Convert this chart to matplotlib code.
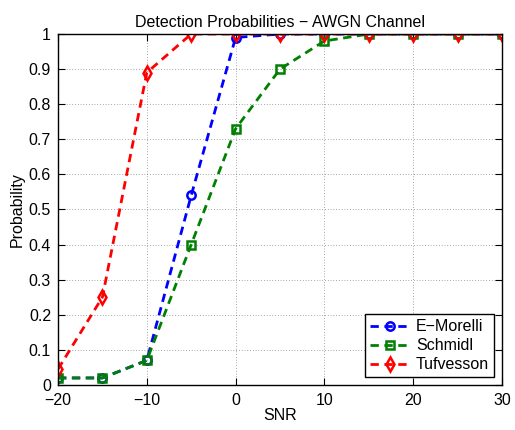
import matplotlib
matplotlib.use('Agg')
import matplotlib.pyplot as plt

plt.rcParams['font.family'] = ['Liberation Sans', 'DejaVu Sans']
plt.rcParams['font.size'] = 11.5

# SNR values and detection probabilities
snr = [-20, -15, -10, -5, 0, 5, 10, 15, 20, 25, 30]
morelli = [0.02, 0.02, 0.07, 0.54, 0.99, 1, 1, 1, 1, 1, 1]
schmidl = [0.02, 0.02, 0.07, 0.40, 0.73, 0.90, 0.98, 1, 1, 1, 1]
tufvesson = [0.045, 0.25, 0.89, 1, 1, 1, 1, 1, 1, 1, 1]

fig = plt.figure(figsize=(5.15, 4.3), dpi=100)
ax = fig.add_axes([0.1126, 0.1047, 0.8622, 0.8162])

dash = (3, 2)
ax.plot(snr, morelli, '--o', color='#0000ff', lw=2, dashes=dash, ms=6, mfc='none', mew=1.8, label='E\u2212Morelli')
ax.plot(snr, schmidl, '--s', color='#008000', lw=2, dashes=dash, ms=6, mfc='none', mew=1.8, label='Schmidl')
ax.plot(snr, tufvesson, '--d', color='#ff0000', lw=2, dashes=dash, ms=7, mfc='none', mew=1.8, label='Tufvesson')

ax.set_xlim(-20, 30)
ax.set_ylim(0, 1)
ax.set_xticks([-20, -10, 0, 10, 20, 30])
ax.set_yticks([i / 10 for i in range(11)])
ax.set_yticklabels(['0', '0.1', '0.2', '0.3', '0.4', '0.5', '0.6', '0.7', '0.8', '0.9', '1'])
ax.tick_params(direction='in', top=True, right=True, length=5)
ax.tick_params(axis='x', pad=6)
ax.tick_params(axis='y', pad=5)
ax.grid(True, linestyle=(0, (1, 3)), color='#555555', lw=0.5)
for s in ax.spines.values():
    s.set_linewidth(1)

ax.set_xlabel('SNR', labelpad=0)
ax.set_ylabel('Probability', labelpad=3)
ax.set_title('Detection Probabilities \u2212 AWGN Channel', fontsize=11.5, pad=5)

leg = ax.legend(loc='lower right', fancybox=False, edgecolor='black', framealpha=1,
                handlelength=2.5, borderaxespad=0.5, borderpad=0.3, labelspacing=0.25,
                handletextpad=0.4)
leg.get_frame().set_linewidth(1)

fig.savefig('out.png', dpi=100)
